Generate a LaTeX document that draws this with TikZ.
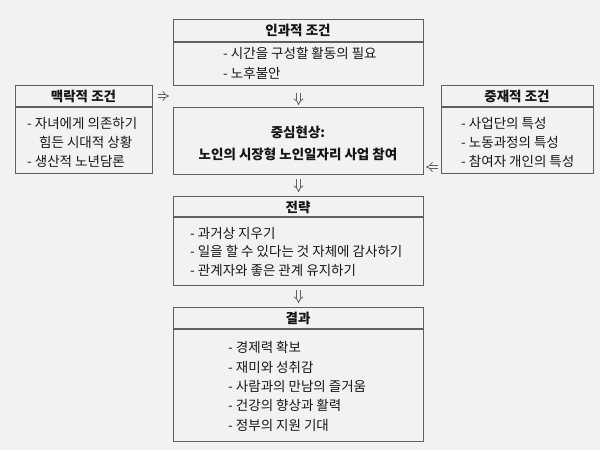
\documentclass[tikz,border=0pt]{standalone}
\usepackage{fontspec}
\setmainfont{Noto Sans CJK KR}
\usetikzlibrary{arrows.meta}
\definecolor{bg}{HTML}{F2F2F2}
\definecolor{bd}{HTML}{606060}
\definecolor{tx}{HTML}{161616}
\begin{document}
\begin{tikzpicture}[x=1pt,y=-1pt,
  box/.style={draw=bd, line width=1.1pt, fill=bg, rectangle, inner sep=0pt, anchor=north west},
  divider/.style={draw=bd, line width=1.1pt},
  head/.style={font=\fontsize{13.5}{16}\selectfont\bfseries, text=tx, inner sep=0pt},
  item/.style={font=\fontsize{13.5}{16}\selectfont, text=tx, inner sep=0pt, anchor=west},
  dbl/.style={draw=bd, double=bg, double distance=2.6pt, line width=0.8pt, -{Implies[scale=1.25]}}]
\fill[bg] (0,0) rectangle (600,450);
\useasboundingbox (0,0) rectangle (600,450);
% boxes
\node[box, minimum width=250pt, minimum height=66pt] (cause) at (173,19) {};
\node[box, minimum width=137pt, minimum height=88pt] (context) at (15,85) {};
\node[box, minimum width=152pt, minimum height=88pt] (mediate) at (441,85) {};
\node[box, minimum width=250pt, minimum height=67pt] (center) at (173,107) {};
\node[box, minimum width=250pt, minimum height=89pt] (strategy) at (173,196) {};
\node[box, minimum width=250pt, minimum height=134pt] (result) at (173,307) {};
% dividers
\draw[divider] ([yshift=-23pt]cause.north west) -- ([yshift=-23pt]cause.north east);
\draw[divider] ([yshift=-22pt]context.north west) -- ([yshift=-22pt]context.north east);
\draw[divider] ([yshift=-22pt]mediate.north west) -- ([yshift=-22pt]mediate.north east);
\draw[divider] ([yshift=-21pt]strategy.north west) -- ([yshift=-21pt]strategy.north east);
\draw[divider] ([yshift=-22pt]result.north west) -- ([yshift=-22pt]result.north east);
% headers
\node[head] (causeh) at (298,30.5) {인과적 조건};
\node[head] (contexth) at (83.5,96) {맥락적 조건};
\node[head] (mediateh) at (517,96) {중재적 조건};
\node[head] (centerh1) at (298,132) {중심현상:};
\node[head] (centerh2) at (298,154) {노인의 시장형 노인일자리 사업 참여};
\node[head] (strategyh) at (298,207) {전략};
\node[head] (resulth) at (298,318) {결과};
% items
\node[item] (c1) at (223,53) {- 시간을 구성할 활동의 필요};
\node[item] (c2) at (223,73) {- 노후불안};
\node[item] (x1) at (27,123) {- 자녀에게 의존하기};
\node[item] (x2) at (39,142) {힘든 시대적 상황};
\node[item] (x3) at (27,161) {- 생산적 노년담론};
\node[item] (m1) at (461,123) {- 사업단의 특성};
\node[item] (m2) at (461,142) {- 노동과정의 특성};
\node[item] (m3) at (461,161) {- 참여자 개인의 특성};
\node[item] (s1) at (190,233) {- 과거상 지우기};
\node[item] (s2) at (190,251) {- 일을 할 수 있다는 것 자체에 감사하기};
\node[item] (s3) at (190,270) {- 관계자와 좋은 관계 유지하기};
\node[item] (r1) at (228,347) {- 경제력 확보};
\node[item] (r2) at (228,367) {- 재미와 성취감};
\node[item] (r3) at (228,386) {- 사람과의 만남의 즐거움};
\node[item] (r4) at (228,405) {- 건강의 향상과 활력};
\node[item] (r5) at (228,425) {- 정부의 지원 기대};
% connectors
\coordinate (ctxend) at (169,96);
\coordinate (medlvl) at (0,167);
\draw[dbl, shorten <=7pt, shorten >=2pt] (cause.south) -- (center.north);
\draw[dbl, shorten <=4pt, shorten >=4pt] (center.south) -- (strategy.north);
\draw[dbl, shorten <=4pt, shorten >=4pt] (strategy.south) -- (result.north);
\draw[dbl, shorten <=5pt] (context.east |- ctxend) -- (ctxend);
\draw[dbl, shorten <=3pt, shorten >=2pt] (mediate.west |- medlvl) -- (center.east |- medlvl);
\end{tikzpicture}
\end{document}
